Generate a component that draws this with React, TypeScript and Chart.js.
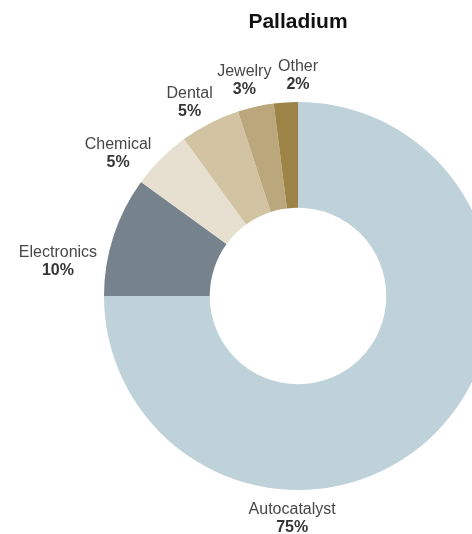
import React, { useEffect, useRef } from "react";
import { Chart, registerables } from "chart.js";

Chart.register(...registerables);

const CATEGORIES = ["Autocatalyst", "Electronics", "Chemical", "Dental", "Jewelry", "Other"];
const SHARES = [75, 10, 5, 5, 3, 2];
const PERCENT_LABELS = ["75%", "10%", "5%", "5%", "3%", "2%"];
const COLORS = ["#bfd2da", "#76838c", "#e7dfcf", "#d2c3a2", "#baa87c", "#9d8346"];

const FONT = "'Liberation Sans', Arial, Helvetica, sans-serif";

// label placement: angle (deg, clockwise from top) and distance beyond the outer radius
const LABEL_PLACEMENT = [
  { angle: 181.5, offset: 29 },
  { angle: 278.2, offset: 48.5 },
  { angle: 308.3, offset: 35.3 },
  { angle: 330.7, offset: 27.5 },
  { angle: 346, offset: 28 },
  { angle: 0, offset: 26 },
];

const outerLabels = {
  id: "outerLabels",
  afterDatasetsDraw(chart: any) {
    const meta = chart.getDatasetMeta(0);
    const ctx = chart.ctx;
    ctx.save();
    ctx.textAlign = "center";
    ctx.textBaseline = "middle";
    meta.data.forEach((el: any, i: number) => {
      const { x, y, outerRadius } = el.getProps(["x", "y", "outerRadius"], true);
      const p = LABEL_PLACEMENT[i];
      const a = ((p.angle - 90) * Math.PI) / 180;
      const d = outerRadius + p.offset;
      const cx = x + Math.cos(a) * d;
      const cy = y + Math.sin(a) * d;
      ctx.font = `16px ${FONT}`;
      ctx.fillStyle = "#474747";
      ctx.fillText(CATEGORIES[i], cx, cy - 9);
      ctx.font = `bold 16px ${FONT}`;
      ctx.fillStyle = "#353535";
      ctx.fillText(PERCENT_LABELS[i], cx, cy + 9);
    });
    ctx.restore();
  },
};

export default function App() {
  const ref = useRef<HTMLCanvasElement | null>(null);
  useEffect(() => {
    if (!ref.current) return;
    const chart = new Chart(ref.current, {
      type: "doughnut",
      data: {
        labels: CATEGORIES,
        datasets: [
          {
            data: SHARES,
            backgroundColor: COLORS,
            borderWidth: 0,
            hoverOffset: 0,
          },
        ],
      },
      options: {
        responsive: false,
        animation: false,
        cutout: "45.5%",
        layout: { padding: { bottom: 44 } },
        plugins: {
          legend: { display: false },
          tooltip: { enabled: false },
          title: {
            display: true,
            text: "Palladium",
            color: "#111111",
            font: { size: 21, weight: "bold", family: FONT, lineHeight: 1.2 },
            padding: { top: 10, bottom: 66.8 },
          },
        },
      },
      plugins: [outerLabels],
    });
    return () => chart.destroy();
  }, []);
  return (
    <div
      style={{
        position: "fixed",
        left: 0,
        top: 0,
        width: 472,
        height: 534,
        overflow: "hidden",
        background: "#ffffff",
      }}
    >
      <canvas ref={ref} width={596} height={534} style={{ display: "block" }} />
    </div>
  );
}
